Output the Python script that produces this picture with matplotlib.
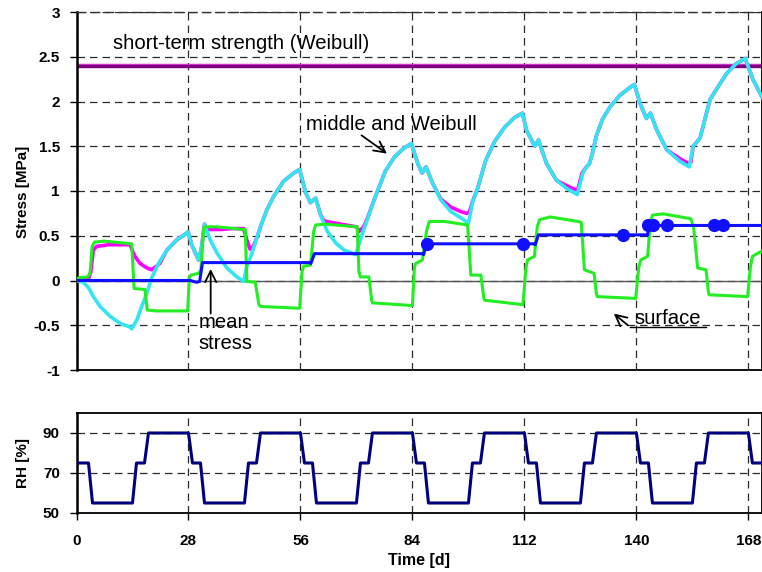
import matplotlib
matplotlib.use("Agg")
import matplotlib.pyplot as plt

plt.rcParams['font.family'] = ['Liberation Sans', 'DejaVu Sans']

# --- stress in the middle of the cross-section [MPa] ---
mid_t = [0, 1.7, 3.0, 4.2, 5.9, 8.4, 10.9, 13.4, 13.8, 15.1, 16.3, 17.6, 18.8, 20.5,
         22.6, 25.1, 27.6, 27.9, 28.8, 30.5, 31.2, 32.0, 33.4, 35.1, 37.6, 40.1, 41.8,
         42.6, 43.5, 44.7, 46.0, 47.6, 49.3, 51.8, 54.3, 55.8, 57.3, 58.5, 59.8, 61.0,
         62.7, 64.8, 66.9, 69.8, 71.0, 71.8, 72.7, 74.4, 77.2, 79.5, 81.9, 83.7, 85.3,
         86.4, 87.4, 89.0, 91.1, 93.6, 96.1, 98.0, 99.0, 100.3, 102.3, 104.5, 107.0,
         109.5, 111.5, 112.5, 114.6, 115.5, 117.5, 120.0, 122.5, 125.2, 126.6, 127.5,
         128.2, 129.0, 130.0, 131.5, 133.4, 135.9, 138.2, 139.5, 140.9, 142.5, 143.5,
         145.1, 147.6, 150.9, 153.2, 154.2, 155.9, 158.4, 160.2, 162.5, 164.9, 167.2,
         169.2, 171.4]
mid_s = [0.0, -0.02, -0.08, -0.18, -0.29, -0.40, -0.48, -0.52, -0.54, -0.44, -0.29, -0.14,
         0.03, 0.19, 0.34, 0.455, 0.53, 0.545, 0.40, 0.23, 0.35, 0.63, 0.455, 0.31, 0.14,
         0.04, -0.01, 0.16, 0.26, 0.42, 0.60, 0.79, 0.94, 1.11, 1.20, 1.24, 0.98, 0.87,
         0.92, 0.735, 0.55, 0.42, 0.34, 0.29, 0.455, 0.57, 0.68, 0.90, 1.22, 1.38, 1.48,
         1.53, 1.31, 1.20, 1.27, 1.09, 0.90, 0.77, 0.70, 0.64, 0.87, 1.03, 1.34, 1.55,
         1.71, 1.82, 1.87, 1.68, 1.50, 1.57, 1.31, 1.12, 1.03, 0.96, 1.20, 1.27, 1.30,
         1.42, 1.62, 1.80, 1.94, 2.07, 2.15, 2.19, 1.98, 1.81, 1.87, 1.68, 1.46, 1.33,
         1.27, 1.50, 1.59, 2.02, 2.15, 2.31, 2.42, 2.48, 2.24, 2.05]

# --- middle, Weibull-effective stress [MPa] ---
wb_t = [0, 3.0, 3.6, 4.2, 5.0, 8.0, 13.4, 14.0, 14.6, 15.9, 17.6, 18.8, 20.0, 20.8,
        22.6, 25.1, 27.6, 27.9, 28.8, 30.5, 31.2, 32.0, 32.6, 36.0, 39.0, 41.8, 42.6,
        43.4, 44.2, 45.2, 46.0, 47.6, 49.3, 51.8, 54.3, 55.8, 57.3, 58.5, 59.8, 61.0,
        61.8, 62.5, 66.0, 70.0, 70.7, 71.8, 72.7, 74.4, 77.2, 79.5, 81.9, 83.7, 85.3,
        86.4, 87.4, 89.0, 91.1, 93.6, 96.1, 97.6, 98.2, 99.0, 100.3, 102.3, 104.5,
        107.0, 109.5, 111.5, 112.5, 114.6, 115.5, 117.5, 120.0, 122.5, 124.5, 125.3,
        126.4, 127.5, 128.2, 129.0, 130.0, 131.5, 133.4, 135.9, 138.2, 139.5, 140.9,
        142.5, 143.5, 145.1, 147.6, 150.9, 153.0, 153.6, 154.2, 155.9, 158.4, 160.2,
        162.5, 164.9, 167.2, 169.2, 171.4]
wb_s = [0.0, 0.02, 0.10, 0.34, 0.38, 0.40, 0.40, 0.33, 0.27, 0.19, 0.14, 0.12, 0.16,
        0.19, 0.34, 0.455, 0.53, 0.545, 0.40, 0.23, 0.35, 0.63, 0.57, 0.57, 0.58, 0.58,
        0.45, 0.35, 0.38, 0.49, 0.60, 0.79, 0.94, 1.11, 1.20, 1.24, 0.98, 0.87, 0.92,
        0.74, 0.67, 0.66, 0.63, 0.60, 0.55, 0.60, 0.69, 0.90, 1.22, 1.38, 1.48, 1.53,
        1.31, 1.20, 1.27, 1.09, 0.91, 0.82, 0.77, 0.75, 0.76, 0.88, 1.03, 1.34, 1.55,
        1.71, 1.82, 1.87, 1.68, 1.50, 1.57, 1.31, 1.12, 1.06, 1.02, 1.01, 1.20, 1.27,
        1.30, 1.42, 1.62, 1.80, 1.94, 2.07, 2.15, 2.19, 1.98, 1.81, 1.87, 1.68, 1.46,
        1.36, 1.31, 1.32, 1.50, 1.59, 2.02, 2.15, 2.31, 2.42, 2.48, 2.24, 2.05]

# --- surface stress [MPa] ---
surf_t = [0, 0.5, 2.8, 3.4, 3.9, 4.5, 7.0, 13.8, 14.4, 17.1, 17.7, 20.0, 27.8, 28.2,
          28.6, 30.5, 31.1, 31.8, 32.2, 35.0, 41.8, 42.2, 42.6, 44.7, 45.6, 46.0, 55.8,
          56.4, 56.8, 58.5, 59.3, 59.8, 62.0, 70.2, 70.6, 71.0, 73.1, 73.8, 74.0, 84.0,
          84.5, 84.8, 86.5, 87.5, 88.2, 92.0, 97.8, 98.6, 101.1, 101.8, 102.0, 111.6,
          112.4, 112.8, 114.5, 115.2, 115.8, 118.4, 125.4, 126.2, 127.0, 129.4, 130.0,
          130.2, 139.8, 140.6, 141.1, 142.8, 143.5, 144.0, 146.7, 153.6, 154.3, 155.3,
          157.4, 158.0, 158.2, 167.8, 168.5, 169.0, 171.4]
surf_s = [0.0, 0.03, 0.04, 0.08, 0.38, 0.43, 0.44, 0.41, -0.09, -0.10, -0.33, -0.34,
          -0.34, 0.03, 0.06, 0.08, 0.12, 0.58, 0.60, 0.60, 0.57, 0.57, -0.01, -0.02,
          -0.27, -0.29, -0.31, 0.10, 0.16, 0.17, 0.55, 0.62, 0.63, 0.60, 0.10, 0.04,
          0.04, -0.22, -0.25, -0.28, 0.15, 0.19, 0.23, 0.55, 0.66, 0.66, 0.62, 0.06,
          0.06, -0.18, -0.22, -0.27, 0.15, 0.23, 0.27, 0.60, 0.68, 0.71, 0.66, 0.65,
          0.12, 0.08, -0.15, -0.18, -0.20, 0.15, 0.23, 0.27, 0.65, 0.73, 0.745, 0.69,
          0.60, 0.14, 0.12, -0.13, -0.16, -0.18, 0.15, 0.27, 0.33]

# --- mean stress over the section [MPa] ---
mean_t = [0, 28.5, 30.0, 30.8, 31.5, 58.2, 58.6, 59.5, 86.4, 86.8, 87.5, 114.3, 114.7,
          115.5, 142.3, 142.7, 143.3, 171.4]
mean_s = [0.0, 0.0, -0.02, -0.01, 0.20, 0.20, 0.19, 0.30, 0.30, 0.29, 0.41, 0.41, 0.40,
          0.51, 0.51, 0.50, 0.615, 0.615]
dot_t = [87.6, 111.6, 136.6, 143.0, 144.2, 147.6, 159.5, 161.6]
dot_s = [0.41, 0.41, 0.51, 0.615, 0.615, 0.615, 0.615, 0.615]

strength = 2.4

# --- climate: relative humidity [%] ---
rh_t = [0, 3, 4, 14, 15, 17, 18, 28,
        29, 31, 32, 42, 43, 45, 46, 56,
        57, 59, 60, 70, 71, 73, 74, 84,
        85, 87, 88, 98, 99, 101, 102, 112,
        113, 115, 116, 126, 127, 129, 130, 140,
        141, 143, 144, 154, 155, 157, 158, 168,
        169, 171.4]
rh_v = [75, 75, 55, 55, 75, 75, 90, 90,
        75, 75, 55, 55, 75, 75, 90, 90,
        75, 75, 55, 55, 75, 75, 90, 90,
        75, 75, 55, 55, 75, 75, 90, 90,
        75, 75, 55, 55, 75, 75, 90, 90,
        75, 75, 55, 55, 75, 75, 90, 90,
        75, 75]

days = [0, 28, 56, 84, 112, 140, 168]
stress_ticks = [-1, -0.5, 0, 0.5, 1, 1.5, 2, 2.5, 3]
stress_labels = ['-1', '-0.5', '0', '0.5', '1', '1.5', '2', '2.5', '3']
rh_ticks = [50, 70, 90]

W, H = 762, 572
fig = plt.figure(figsize=(W / 100, H / 100), dpi=100)
left = 76.5 / W
width = 1 - left
ax1 = fig.add_axes([left, 1 - 370 / H, width, 358 / H])
ax2 = fig.add_axes([left, 1 - 513 / H, width, 100 / H])

dash = (0, (6, 4))
for ax in (ax1, ax2):
    ax.set_xlim(0, 171.4)
    ax.set_xticks(days)
    ax.grid(True, linestyle=dash, color='#2a2a2a', linewidth=0.9)
    ax.set_axisbelow(True)
    for s in ax.spines.values():
        s.set_linewidth(1.3)

# top panel: stresses
ax1.set_ylim(-1, 3)
ax1.set_yticks(stress_ticks, stress_labels)
ax1.tick_params(axis='x', length=0, labelbottom=False)
ax1.tick_params(axis='y', direction='out', length=5, width=1, pad=7, labelsize=11)
ax1.spines['top'].set_linestyle(dash)
ax1.spines['top'].set_color('#333333')
ax1.spines['top'].set_linewidth(1.0)
ax1.spines['left'].set_linewidth(1.8)
ax1.axhline(0, color='#555555', linewidth=1.0, zorder=1.5)

ax1.axhline(strength, color='#cc33cc', linewidth=3.2, zorder=2)
ax1.axhline(strength, color='#800080', linewidth=2.2, zorder=2.1)
ax1.plot(wb_t, wb_s, color='#ff00ff', linewidth=2.6, zorder=3)
ax1.plot(mid_t, mid_s, color='#33e5f2', linewidth=2.6, zorder=4)
ax1.plot(surf_t, surf_s, color='#22ee22', linewidth=2.2, zorder=5)
ax1.plot(mean_t, mean_s, color='#1010ff', linewidth=2.2, zorder=6)
ax1.plot(dot_t, dot_s, 'o', color='#1010ff', markersize=8.5, zorder=7)

txt = dict(fontsize=14.6, color='black')
arrow = dict(arrowstyle='->', color='black', lw=1.3, mutation_scale=20)
ax1.text(9.1, 2.65, 'short-term strength (Weibull)', ha='left', va='center', **txt)
ax1.text(57.4, 1.74, 'middle and Weibull', ha='left', va='center', **txt)
ax1.annotate('', xy=(78.2, 1.40), xytext=(70.7, 1.64), arrowprops=arrow)
ax1.text(30.5, -0.53, 'mean', ha='left', va='baseline', **txt)
ax1.text(30.5, -0.76, 'stress', ha='left', va='baseline', **txt)
ax1.annotate('', xy=(33.55, 0.16), xytext=(33.55, -0.40), arrowprops=arrow)
ax1.text(139.6, -0.49, 'surface', ha='left', va='baseline', **txt)
ax1.plot([138.4, 157.4], [-0.52, -0.52], color='black', linewidth=1.0, zorder=8)
ax1.annotate('', xy=(133.8, -0.35), xytext=(138.4, -0.52), arrowprops=arrow)

# bottom panel: relative humidity
ax2.plot(rh_t, rh_v, color='#000080', linewidth=2.2, zorder=3)
ax2.set_ylim(50, 100)
ax2.set_yticks(rh_ticks)
ax2.tick_params(direction='out', length=5, width=1, labelsize=11)
ax2.tick_params(axis='y', pad=7)
ax2.tick_params(axis='x', pad=10)
ax2.spines['left'].set_linewidth(1.8)

for ax in (ax1, ax2):
    plt.setp(ax.get_yticklabels(), fontweight='bold')
plt.setp(ax2.get_xticklabels(), fontweight='bold')

fig.text(23 / W, 1 - 192 / H, 'Stress [MPa]', rotation=90, ha='center', va='center',
         fontsize=11, fontweight='bold')
fig.text(23 / W, 1 - 463 / H, 'RH [%]', rotation=90, ha='center', va='center',
         fontsize=11, fontweight='bold')
fig.text(419 / W, 1 - 560 / H, 'Time [d]', ha='center', va='center',
         fontsize=11.5, fontweight='bold')

fig.savefig('out.png', dpi=100)
